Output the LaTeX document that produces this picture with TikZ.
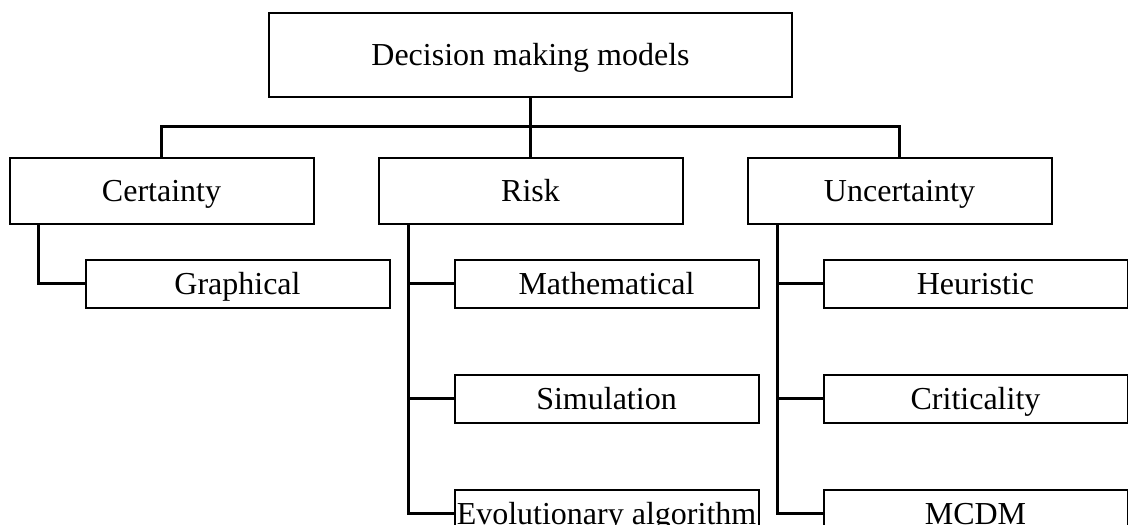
\documentclass[tikz,border=0pt]{standalone}
\usepackage{fontspec}
\setmainfont{Liberation Serif}
\usepackage{tikz}
\usetikzlibrary{positioning}

\begin{document}
\begin{tikzpicture}[
  x=0.5pt, y=-0.5pt,
  box/.style={draw, line width=1pt, inner sep=0pt, minimum width=261.5pt, minimum height=42pt, text height=10.6pt, text depth=0pt, align=center, font=\fontsize{16}{19}\selectfont},
  cat/.style={draw, line width=1pt, inner sep=0pt, minimum width=152pt, minimum height=32.75pt, text height=10.6pt, text depth=0pt, align=center, font=\fontsize{16}{19}\selectfont},
  leaf/.style={draw, line width=1pt, inner sep=0pt, minimum width=152pt, minimum height=24pt, text height=10.6pt, text depth=0pt, align=center, font=\fontsize{16}{19}\selectfont},
  wire/.style={line width=1.5pt},
  node distance=32.5pt and 31.5pt
]
\useasboundingbox (0,0) rectangle (1128,524);

% Root
\node[box] (models) at (530.5,55) {Decision making models};

% Categories
\node[cat, below=29.5pt of models] (risk) {Risk};
\node[cat, left=of risk] (cert) {Certainty};
\node[cat, right=of risk] (unc) {Uncertainty};

% Certainty
\node[leaf, below right=17pt and 38pt of cert.south west] (graph) {Graphical};

% Risk
\node[leaf, below right=17pt and 38pt of risk.south west] (math) {Mathematical};
\node[leaf, below=of math] (sim) {Simulation};
\node[leaf, below=of sim] (evo) {Evolutionary algorithm};

% Uncertainty
\node[leaf, below right=17pt and 38pt of unc.south west] (heur) {Heuristic};
\node[leaf, below=of heur] (crit) {Criticality};
\node[leaf, below=of crit] (mcdm) {MCDM};

% Connectors
\coordinate (bus) at ([yshift=-14pt]models.south);
\draw[wire] (models.south) -- (risk.north);
\draw[wire] (cert.north) |- (bus) -| (unc.north);
\draw[wire] ([xshift=15pt]cert.south west) |- (graph.west);
\draw[wire] ([xshift=15.5pt]risk.south west) |- (math.west);
\draw[wire] ([xshift=15.5pt]risk.south west) |- (sim.west);
\draw[wire] ([xshift=15.5pt]risk.south west) |- (evo.west);
\draw[wire] ([xshift=15.5pt]unc.south west) |- (heur.west);
\draw[wire] ([xshift=15.5pt]unc.south west) |- (crit.west);
\draw[wire] ([xshift=15.5pt]unc.south west) |- (mcdm.west);
\end{tikzpicture}
\end{document}
